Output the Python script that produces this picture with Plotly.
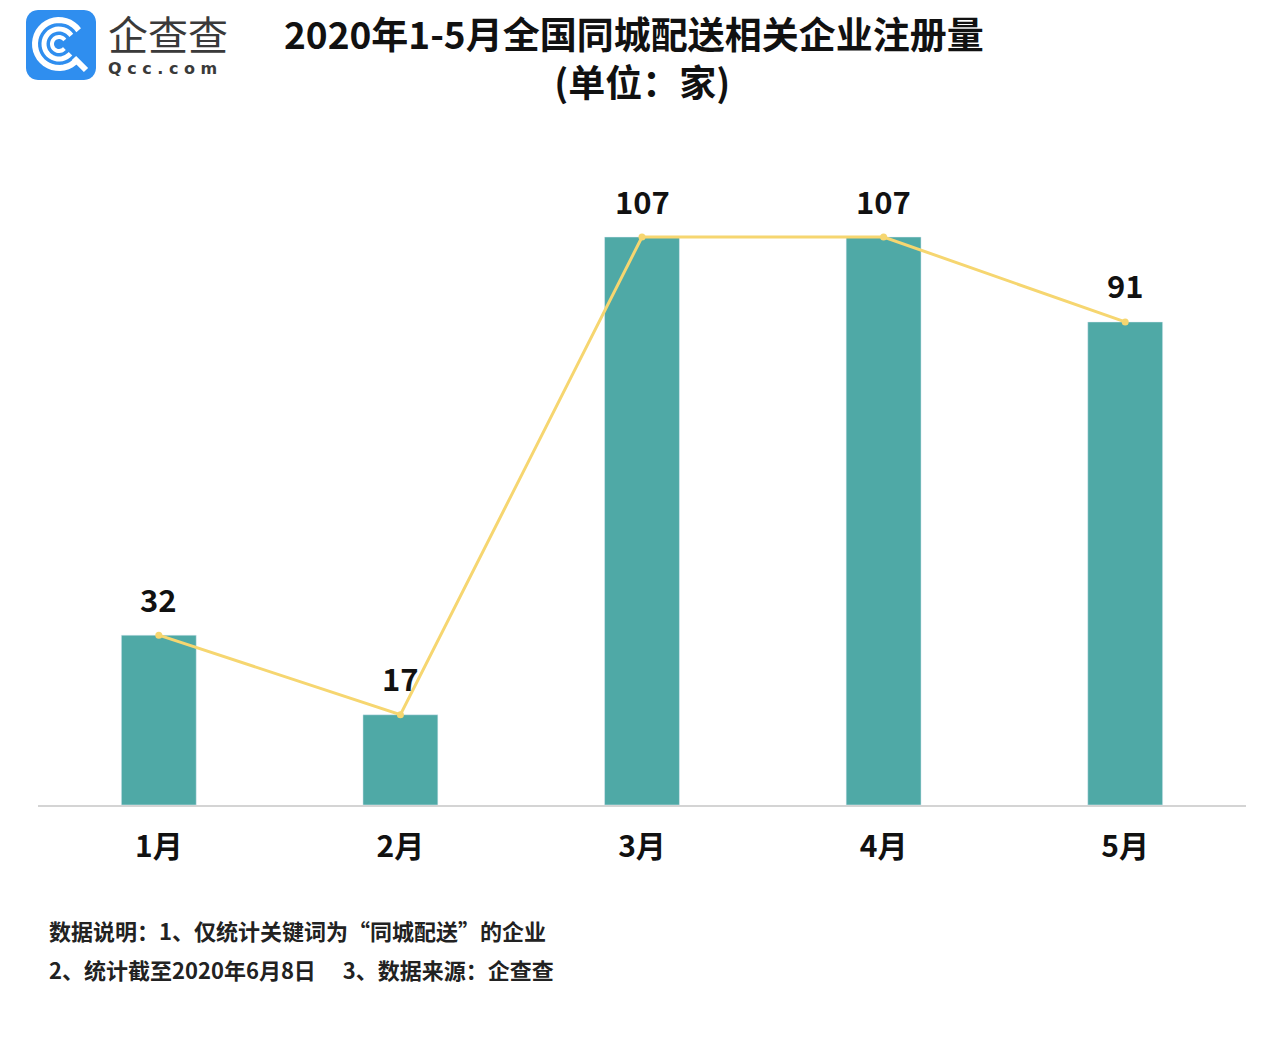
import math
import plotly.graph_objects as go

months = ["1月", "2月", "3月", "4月", "5月"]
counts = [32, 17, 107, 107, 91]

title_line1 = "2020年1-5月全国同城配送相关企业注册量"
title_line2 = "\u00a0\u00a0(单位：家)"
note_line1 = "数据说明：1、仅统计关键词为“同城配送”的企业"
note_line2 = "2、统计截至2020年6月8日　 3、数据来源：企查查"

W, H = 1268, 1040
OFF = 8  # page body margin offset
ML, MR, MT, MB = 38 - OFF, 30, 168 - OFF, 1040 - (805 - OFF)
PW = W - ML - MR
PH = H - MT - MB
FONT = "Noto Sans CJK SC"

def px(x):
    return (x - OFF - ML) / PW

def py(y):
    return (H - MB - (y - OFF)) / PH

BAR = "#4FA9A6"
LINE = "#F6D670"

fig = go.Figure()
fig.add_trace(go.Bar(x=months, y=counts, marker_color=BAR, width=0.31,
                     hoverinfo="skip", showlegend=False))
fig.add_trace(go.Scatter(x=months, y=counts, mode="lines+markers",
                         line=dict(color=LINE, width=3),
                         marker=dict(color=LINE, size=7),
                         showlegend=False))

annotations = []
for m, v in zip(months, counts):
    annotations.append(dict(x=m, y=v, xref="x", yref="y", text=str(v),
                            showarrow=False, yshift=37,
                            font=dict(family=FONT, size=31, color="#111111", weight="bold")))

annotations.append(dict(x=px(634), y=py(57), xref="paper", yref="paper",
                        text=title_line1 + "<br>" + title_line2,
                        showarrow=False, xanchor="center", yanchor="middle", align="center",
                        font=dict(family=FONT, size=37, color="#111111", weight="bold")))
annotations.append(dict(x=px(47), y=py(930), xref="paper", yref="paper", text=note_line1,
                        showarrow=False, xanchor="left", yanchor="middle",
                        font=dict(family=FONT, size=22, color="#222222", weight="bold")))
annotations.append(dict(x=px(47), y=py(969), xref="paper", yref="paper", text=note_line2,
                        showarrow=False, xanchor="left", yanchor="middle",
                        font=dict(family=FONT, size=22, color="#222222", weight="bold")))
# logo text
annotations.append(dict(x=px(106), y=py(33), xref="paper", yref="paper", text="企查查",
                        showarrow=False, xanchor="left", yanchor="middle",
                        font=dict(family=FONT, size=40, color="#3a3a3a")))
annotations.append(dict(x=px(106), y=py(69), xref="paper", yref="paper",
                        text="Q c c . c o m",
                        showarrow=False, xanchor="left", yanchor="middle",
                        font=dict(family="DejaVu Sans", size=16, color="#3a3a3a", weight="bold")))

shapes = []
x0, y0, x1, y1, r = 26, 10, 96, 80, 12
def rpath():
    pts = []
    corners = [(x1 - r, y0 + r, -90, 0), (x1 - r, y1 - r, 0, 90),
               (x0 + r, y1 - r, 90, 180), (x0 + r, y0 + r, 180, 270)]
    for cx, cy, a0, a1 in corners:
        for k in range(7):
            a = math.radians(a0 + (a1 - a0) * k / 6)
            pts.append((cx + r * math.cos(a), cy + r * math.sin(a)))
    return "M " + " L ".join(f"{px(a):.5f},{py(b):.5f}" for a, b in pts) + " Z"
shapes.append(dict(type="path", path=rpath(), xref="paper", yref="paper",
                   fillcolor="#2F8EEF", line=dict(width=0), layer="above"))

def arc(cx, cy, rad, a0, a1, n=30):
    pts = []
    for k in range(n + 1):
        a = math.radians(a0 + (a1 - a0) * k / n)
        pts.append((cx + rad * math.cos(a), cy - rad * math.sin(a)))
    return "M " + " L ".join(f"{px(a):.5f},{py(b):.5f}" for a, b in pts)

cx, cy = 59, 44
for rad, w in [(24, 6), (15, 5), (7, 4)]:
    shapes.append(dict(type="path", path=arc(cx, cy, rad, 35, 320), xref="paper", yref="paper",
                       line=dict(color="white", width=w), layer="above"))
shapes.append(dict(type="line", x0=px(74), y0=py(58), x1=px(86), y1=py(70),
                   xref="paper", yref="paper", line=dict(color="white", width=6), layer="above"))

fig.update_layout(
    width=W, height=H,
    margin=dict(l=ML, r=MR, t=MT, b=MB),
    paper_bgcolor="white", plot_bgcolor="white",
    xaxis=dict(showgrid=False, showline=True, linecolor="#d4d4d4", linewidth=1.5,
               ticks="", tickfont=dict(family=FONT, size=30, color="#111111", weight="bold"),
               ticklabelstandoff=14, fixedrange=True),
    yaxis=dict(range=[0, 120], visible=False, showgrid=False, zeroline=False, fixedrange=True),
    annotations=annotations,
    shapes=shapes,
    showlegend=False,
)

fig.write_html("out.html")
